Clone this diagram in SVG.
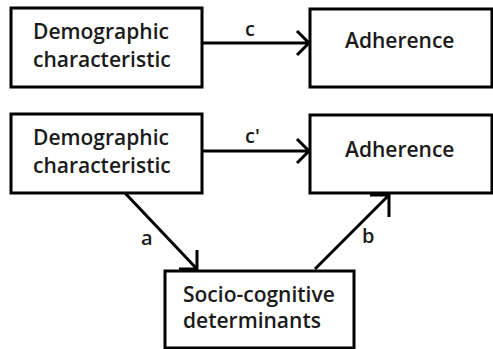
<svg xmlns="http://www.w3.org/2000/svg" width="493" height="349" viewBox="0 0 493 349">
<style>
.box{fill:#fff;stroke:#000;stroke-width:3}
.t{font-family:"Open Sans","Noto Sans",sans-serif;font-weight:600;font-size:21px;fill:#1a1a1a}
.l{font-family:"Open Sans","Noto Sans",sans-serif;font-weight:600;font-size:20px;fill:#1a1a1a}
.e{stroke:#000;stroke-width:3;fill:none}
</style>
<rect width="493" height="349" fill="#fff"/>
<g id="demo1"><rect class="box" x="11" y="8" width="191" height="79"/><text class="t" x="33" y="39">Demographic</text><text class="t" x="33" y="67">characteristic</text></g>
<g id="adh1"><rect class="box" x="310" y="9" width="182" height="78"/><text class="t" x="345" y="48">Adherence</text></g>
<g id="demo2"><rect class="box" x="11" y="114" width="191" height="79"/><text class="t" x="33" y="145">Demographic</text><text class="t" x="33" y="173">characteristic</text></g>
<g id="adh2"><rect class="box" x="310" y="115" width="182" height="78"/><text class="t" x="345" y="157">Adherence</text></g>
<g id="socio"><rect class="box" x="165" y="271" width="189" height="77"/><text class="t" x="183" y="302">Socio-cognitive</text><text class="t" x="183" y="328">determinants</text></g>
<g id="connectors">
<path class="e" d="M202 43H308M297 31L309 43L297 55"/>
<text class="l" x="245" y="36">c</text>
<path class="e" d="M202 151H308M297 139L309 151L297 163"/>
<text class="l" x="245" y="143">c'</text>
<path class="e" d="M125 193L197 269M197 250V269H179"/>
<text class="l" x="141" y="245">a</text>
<path class="e" d="M315 269L389 195M370 195H389V217"/>
<text class="l" x="362" y="243">b</text>
</g>
</svg>
